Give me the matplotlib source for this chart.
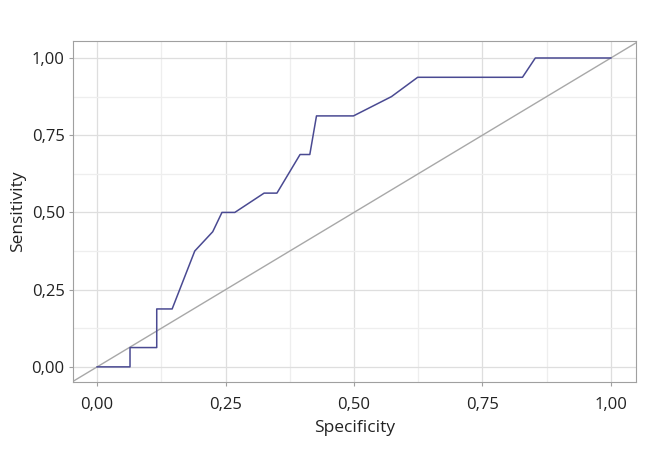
import numpy as np
from matplotlib import pyplot as plt
from matplotlib.ticker import MultipleLocator, FuncFormatter

plt.rcParams['font.family'] = ['Open Sans', 'DejaVu Sans']

# ROC curve points
spec = [0, 0.064, 0.064, 0.116, 0.116, 0.146, 0.19, 0.225, 0.243, 0.268,
        0.325, 0.35, 0.395, 0.414, 0.427, 0.499, 0.573, 0.624, 0.828, 0.853, 1.0]
sens = [0, 0, 0.0625, 0.0625, 0.1875, 0.1875, 0.375, 0.4375, 0.5, 0.5,
        0.5625, 0.5625, 0.6875, 0.6875, 0.8125, 0.8125, 0.875, 0.9375, 0.9375, 1.0, 1.0]
ticks = [0, 0.25, 0.5, 0.75, 1.0]

fig = plt.figure(figsize=(6.48, 4.53), dpi=100)
ax = fig.add_axes([73/648, 1 - 382/453, 563/648, 341/453])

ax.set_xlim(-0.047, 1.049)
ax.set_ylim(-0.049, 1.055)

ax.plot([-0.05, 1.05], [-0.05, 1.05], color='#a8a8a8', lw=1, zorder=2)
ax.plot(spec, sens, color='#4a4a92', lw=1.1, zorder=3)

ax.set_xticks(ticks)
ax.set_yticks(ticks)
ax.xaxis.set_minor_locator(MultipleLocator(0.125))
ax.yaxis.set_minor_locator(MultipleLocator(0.125))
fmt = FuncFormatter(lambda v, p: ('%.2f' % v).replace('.', ','))
ax.xaxis.set_major_formatter(fmt)
ax.yaxis.set_major_formatter(fmt)

ax.grid(which='major', color='#dedede', lw=0.9)
ax.grid(which='minor', color='#eeeeee', lw=0.9)
ax.set_axisbelow(True)

for s in ax.spines.values():
    s.set_color('#a0a0a0')
ax.tick_params(which='major', length=3, color='#a0a0a0', labelsize=12,
               labelcolor='#222222')
ax.tick_params(axis='x', which='major', pad=8)
ax.tick_params(axis='y', which='major', pad=3)
ax.tick_params(which='minor', length=0)

ax.set_xlabel('Specificity', fontsize=12.5, color='#222222', labelpad=5)
ax.set_ylabel('Sensitivity', fontsize=12.5, color='#222222', labelpad=4)

fig.savefig('out.png', dpi=100)
